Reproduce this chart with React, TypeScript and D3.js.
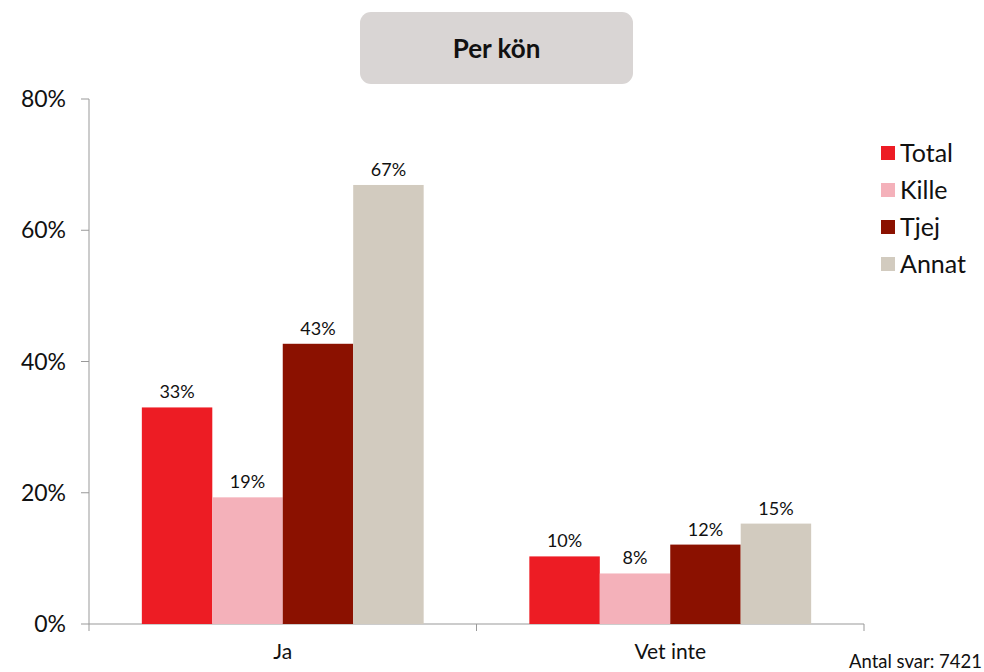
import React from "react";
import * as d3 from "d3";

const categories = ["Ja", "Vet inte"];
const seriesNames = ["Total", "Kille", "Tjej", "Annat"];
const seriesColors = ["#ED1C24", "#F4B1BA", "#8B1100", "#D2CBBF"];
const totalValues = [33.0, 10.3];
const killeValues = [19.3, 7.7];
const tjejValues = [42.7, 12.1];
const annatValues = [66.9, 15.3];
const yTicks = [0, 20, 40, 60, 80];
const title = "Per kön";
const footnote = "Antal svar: 7421";

const seriesValues = [totalValues, killeValues, tjejValues, annatValues];

export default function App() {
  const W = 984, H = 672;
  const left = 89, right = 864, top = 99, bottom = 624;
  const font = "Lato, 'Open Sans', sans-serif";
  const x0 = d3.scaleBand().domain(categories).range([left, right]).paddingInner(0).paddingOuter(0);
  const x1 = d3.scaleBand().domain(seriesNames).range([0, x0.bandwidth()]).paddingInner(0).paddingOuter(0.75);
  const y = d3.scaleLinear().domain([0, 80]).range([bottom, top]);
  const axisColor = "#999";
  return (
    <svg width={W} height={H} style={{ position: "absolute", left: 0, top: 0 }} fontFamily={font}>
      <rect x={360} y={12} width={273} height={72} rx={11} fill="#D9D5D4" />
      <text x={496.5} y={58} textAnchor="middle" fontSize={26} fontWeight="bold" fill="#111">{title}</text>
      {/* y axis */}
      <line x1={left} x2={left} y1={top} y2={bottom} stroke={axisColor} />
      {yTicks.map((t) => (
        <g key={t}>
          <line x1={left - 8} x2={left} y1={y(t)} y2={y(t)} stroke={axisColor} />
          <text x={66} y={y(t) + 8} textAnchor="end" fontSize={23} fill="#111">{t + "%"}</text>
        </g>
      ))}
      {/* x axis */}
      <line x1={left} x2={right} y1={bottom} y2={bottom} stroke={axisColor} />
      {[...categories.map((c) => x0(c)!), right].map((xx, i) => (
        <line key={i} x1={xx} x2={xx} y1={bottom} y2={bottom + 7} stroke={axisColor} />
      ))}
      {categories.map((c) => (
        <text key={c} x={x0(c)! + x0.bandwidth() / 2} y={659} textAnchor="middle" fontSize={21} fill="#111">{c}</text>
      ))}
      {categories.map((c, ci) => (
        <g key={c}>
          {seriesNames.map((s, si) => {
            const v = seriesValues[si][ci];
            const bx = x0(c)! + x1(s)!;
            return (
              <g key={s}>
                <rect x={bx} y={y(v)} width={x1.bandwidth()} height={bottom - y(v)} fill={seriesColors[si]} />
                <text x={bx + x1.bandwidth() / 2} y={y(v) - 9} textAnchor="middle" fontSize={18} fill="#111">{Math.round(v) + "%"}</text>
              </g>
            );
          })}
        </g>
      ))}
      {/* legend */}
      {seriesNames.map((s, i) => (
        <g key={s}>
          <rect x={881} y={146 + i * 37} width={14} height={14} fill={seriesColors[i]} />
          <text x={900} y={162 + i * 37} fontSize={25} fill="#111">{s}</text>
        </g>
      ))}
      <text x={982} y={668} textAnchor="end" fontSize={18.5} fill="#111">{footnote}</text>
    </svg>
  );
}
